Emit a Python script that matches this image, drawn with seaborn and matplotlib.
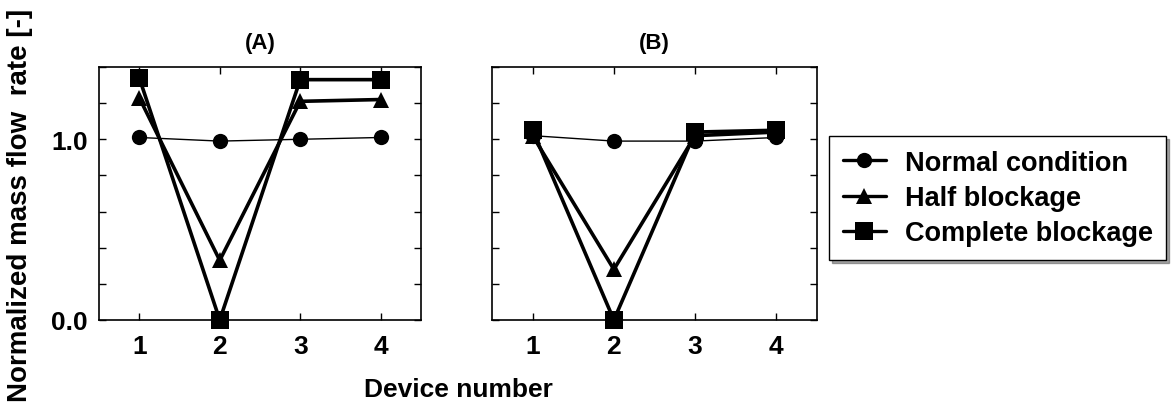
import matplotlib
matplotlib.use("Agg")
import matplotlib.pyplot as plt
import seaborn as sns
import pandas as pd
from matplotlib.ticker import MultipleLocator, FixedLocator

sns.set_theme(style="ticks")
plt.rcParams['font.family'] = ['Liberation Sans', 'DejaVu Sans']
plt.rcParams.update({"text.color": "black", "axes.labelcolor": "black",
                     "xtick.color": "black", "ytick.color": "black"})

devices = [1, 2, 3, 4]
series_names = ["Normal condition", "Half blockage", "Complete blockage"]

# Panel A values
a_normal = [1.01, 0.99, 1.00, 1.01]
a_half = [1.23, 0.33, 1.21, 1.22]
a_complete = [1.34, 0.00, 1.33, 1.33]

# Panel B values
b_normal = [1.02, 0.99, 0.99, 1.01]
b_half = [1.02, 0.28, 1.02, 1.04]
b_complete = [1.05, 0.00, 1.04, 1.05]

panel_titles = ["(A)", "(B)"]
markers = ["o", "^", "s"]
widths = [1.0, 2.6, 2.6]
msizes = [11, 11, 13]

fig = plt.figure(figsize=(11.72, 4.06), dpi=100)
W, H = 1172, 406
axA = fig.add_axes([99 / W, 1 - 321 / H, (421 - 99) / W, (321 - 68) / H])
axB = fig.add_axes([492 / W, 1 - 321 / H, (817 - 492) / W, (321 - 68) / H])

panels = [(axA, [a_normal, a_half, a_complete]), (axB, [b_normal, b_half, b_complete])]

for (ax, data), title in zip(panels, panel_titles):
    for name, vals, mk, lw, ms in zip(series_names, data, markers, widths, msizes):
        df = pd.DataFrame({"device": devices, "flow": vals})
        sns.lineplot(data=df, x="device", y="flow", ax=ax, color="black",
                     marker=mk, markersize=ms, linewidth=lw, markeredgewidth=0,
                     label=name, legend=False, clip_on=False, zorder=3)
    ax.set_xlim(0.5, 4.5)
    ax.set_ylim(0, 1.4)
    ax.xaxis.set_major_locator(FixedLocator(devices))
    ax.yaxis.set_major_locator(FixedLocator([0.0, 1.0]))
    ax.yaxis.set_minor_locator(MultipleLocator(0.2))
    ax.tick_params(which="both", direction="in", top=True, right=True,
                   length=5, width=1, color="black")
    ax.tick_params(axis="x", labelsize=19, pad=10)
    ax.tick_params(axis="y", labelsize=19, pad=8)
    for lab in ax.get_xticklabels() + ax.get_yticklabels():
        lab.set_fontweight("bold")
    ax.set_title(title, fontsize=16, fontweight="bold", pad=14)
    ax.set_xlabel("")
    ax.set_ylabel("")
    for sp in ax.spines.values():
        sp.set_linewidth(1.2)
        sp.set_color("black")

axA.set_yticklabels(["0.0", "1.0"])
axB.tick_params(axis="y", labelleft=False)

fig.text(20 / W, 1 - 205 / H, "Normalized mass flow  rate [-]", rotation=90,
         ha="center", va="center", fontsize=20, fontweight="bold")
fig.text(458 / W, 1 - 390 / H, "Device number", ha="center", va="center",
         fontsize=19, fontweight="bold")

handles, labels = axA.get_legend_handles_labels()
leg = fig.legend(handles, labels, loc="upper left",
                 bbox_to_anchor=(829 / W, 1 - 137 / H), frameon=True,
                 fancybox=False, shadow=True, borderaxespad=0,
                 prop={"weight": "bold", "size": 19.5}, handlelength=1.6,
                 handletextpad=0.7, labelspacing=0.35, borderpad=0.5)
leg.get_frame().set_edgecolor("black")
leg.get_frame().set_linewidth(1.0)
for ln in leg.get_lines():
    ln.set_linewidth(2.4)

fig.savefig("out.png", dpi=100)
